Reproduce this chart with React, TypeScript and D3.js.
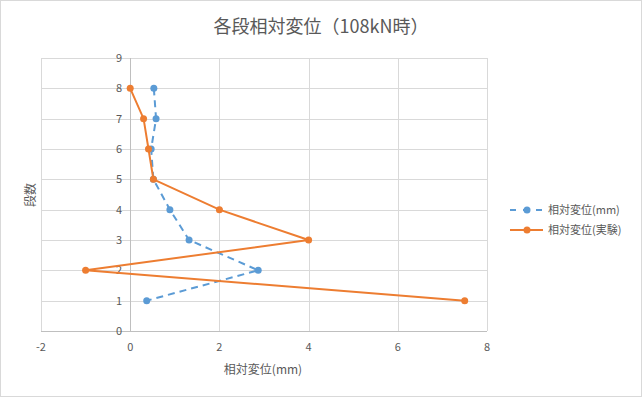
import React, { useEffect, useRef } from 'react';
import * as d3 from 'd3';

const levels = [8, 7, 6, 5, 4, 3, 2, 1];
const calcDisp = [0.53, 0.58, 0.47, 0.52, 0.89, 1.32, 2.87, 0.37];
const testDisp = [0, 0.3, 0.41, 0.52, 2, 4, -1, 7.5];
const xTicks = [-2, 0, 2, 4, 6, 8];
const yTicks = [0, 1, 2, 3, 4, 5, 6, 7, 8, 9];

const seriesNames = ['相対変位(mm)', '相対変位(実験)'];
const seriesColors = ['#5b9bd5', '#ed7d31'];

const App: React.FC = () => {
  const ref = useRef<SVGSVGElement>(null);

  useEffect(() => {
    const W = 642;
    const H = 397;
    const margin = { left: 41, right: 155, top: 58, bottom: 66 };
    const font = '"Noto Sans CJK JP", "Noto Sans", sans-serif';
    const textColor = '#595959';

    const svg = d3.select(ref.current);
    svg.selectAll('*').remove();

    svg.append('rect')
      .attr('x', 0.5).attr('y', 0.5)
      .attr('width', W - 1).attr('height', H - 1)
      .attr('fill', '#fff').attr('stroke', '#d9d9d9');

    const x = d3.scaleLinear().domain([-2, 8]).range([margin.left, W - margin.right]);
    const y = d3.scaleLinear().domain([0, 9]).range([H - margin.bottom, margin.top]);

    // grid
    const grid = svg.append('g').attr('shape-rendering', 'crispEdges');
    yTicks.forEach(t => {
      grid.append('line')
        .attr('x1', x(-2)).attr('x2', x(8))
        .attr('y1', Math.round(y(t)) + 0.5).attr('y2', Math.round(y(t)) + 0.5)
        .attr('stroke', t === 0 ? '#bfbfbf' : '#d9d9d9');
    });
    xTicks.forEach(t => {
      grid.append('line')
        .attr('y1', y(0)).attr('y2', y(9))
        .attr('x1', Math.round(x(t)) + 0.5).attr('x2', Math.round(x(t)) + 0.5)
        .attr('stroke', t === 0 ? '#bfbfbf' : '#d9d9d9');
    });

    // tick labels
    svg.append('g').selectAll('text').data(xTicks).join('text')
      .attr('x', d => x(d)).attr('y', y(0) + 20)
      .attr('text-anchor', 'middle')
      .attr('font-family', font).attr('font-size', 11).attr('fill', textColor)
      .text(d => d);
    svg.append('g').selectAll('text').data(yTicks).join('text')
      .attr('x', x(0) - 8).attr('y', d => y(d) + 4)
      .attr('text-anchor', 'end')
      .attr('font-family', font).attr('font-size', 11).attr('fill', textColor)
      .text(d => d);

    // series
    const pts = (vals: number[]) => vals.map((v, i) => [v, levels[i]] as [number, number]);
    const line = d3.line<[number, number]>().x(d => x(d[0])).y(d => y(d[1]));
    const data = [pts(calcDisp), pts(testDisp)];

    data.forEach((s, i) => {
      svg.append('path')
        .datum(s)
        .attr('fill', 'none')
        .attr('stroke', seriesColors[i])
        .attr('stroke-width', 2)
        .attr('stroke-dasharray', i === 0 ? '7,5' : null)
        .attr('d', line);
      svg.append('g').selectAll('circle').data(s).join('circle')
        .attr('cx', d => x(d[0])).attr('cy', d => y(d[1]))
        .attr('r', 3.5).attr('fill', seriesColors[i]);
    });

    // title
    svg.append('text')
      .attr('x', 321).attr('y', 33)
      .attr('text-anchor', 'middle')
      .attr('font-family', font).attr('font-size', 18).attr('fill', textColor)
      .text('各段相対変位（108kN時）');

    // axis titles
    svg.append('text')
      .attr('x', 263).attr('y', 374)
      .attr('text-anchor', 'middle')
      .attr('font-family', font).attr('font-size', 12).attr('fill', textColor)
      .text('相対変位(mm)');
    svg.append('text')
      .attr('transform', `translate(35,195) rotate(-90)`)
      .attr('text-anchor', 'middle')
      .attr('font-family', font).attr('font-size', 12).attr('fill', textColor)
      .text('段数');

    // legend
    const lg = svg.append('g').attr('transform', 'translate(510,210)');
    seriesNames.forEach((name, i) => {
      const row = lg.append('g').attr('transform', `translate(0,${i * 20})`);
      row.append('line')
        .attr('x1', 0).attr('x2', 33).attr('y1', 0).attr('y2', 0)
        .attr('stroke', seriesColors[i]).attr('stroke-width', 2)
        .attr('stroke-dasharray', i === 0 ? '6,7' : null);
      row.append('circle').attr('cx', 17).attr('cy', 0).attr('r', 3.5).attr('fill', seriesColors[i]);
      row.append('text')
        .attr('x', 38).attr('y', 4)
        .attr('font-family', font).attr('font-size', 11).attr('fill', textColor)
        .text(name);
    });
  }, []);

  return (
    <svg ref={ref} width={642} height={397}
      style={{ position: 'absolute', left: 0, top: 0 }} />
  );
};

export default App;
